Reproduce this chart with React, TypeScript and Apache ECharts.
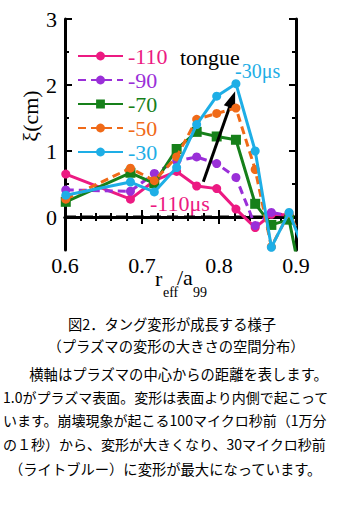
import React, { useEffect, useRef } from "react";
import * as echarts from "echarts";

// r_eff / a_99 positions of the measurement points
const rPositions = [0.601, 0.685, 0.716, 0.745, 0.771, 0.797, 0.822, 0.847, 0.868, 0.891, 0.912];
const seriesNames = ["-110", "-90", "-70", "-50", "-30"];
const xi110 = [0.65, 0.27, 0.55, 0.69, 0.47, 0.43, 0.12, -0.16, 0.04, 0.03];
const xi90 = [0.41, 0.39, 0.66, 0.85, 0.91, 0.81, 0.6, -0.13, 0.07, 0.02];
const xi70 = [0.23, 0.67, 0.51, 1.03, 1.29, 1.22, 1.17, 0.2, -0.12, -0.04, -1.26];
const xi50 = [0.27, 0.74, 0.55, 0.91, 1.48, 1.57, 1.65, 0.72, -0.45, 0.06, -0.45];
const xi30 = [0.33, 0.53, 0.38, 0.75, 1.4, 1.83, 2.02, 1.0, -0.46, 0.07, -0.55];
const seriesValues = [xi110, xi90, xi70, xi50, xi30];
const seriesColors = ["#ec1a82", "#9a2fd8", "#16801a", "#f06a18", "#1eaee6"];
const seriesDashed = [false, true, false, true, false];
const seriesSymbols = ["circle", "circle", "rect", "circle", "circle"];

const xTickLabels = ["0.6", "0.7", "0.8", "0.9"];
const yTickValues = [0, 1, 2, 3];
const yHalfTicks = [0.5, 1.5, 2.5];

const arrowFrom = [0.7796, 0.535];
const arrowTo = [0.8173, 1.785];

const captionTitle = ["図2．タング変形が成長する様子", "（プラズマの変形の大きさの空間分布）"];
const captionBody = [
  "　横軸はプラズマの中心からの距離を表します。",
  "1.0がプラズマ表面。変形は表面より内側で起こって",
  "います。崩壊現象が起こる100マイクロ秒前（1万分",
  "の１秒）から、変形が大きくなり、30マイクロ秒前",
  "（ライトブルー）に変形が最大になっています。",
];

const SERIF = "Liberation Serif";
const JP = "Noto Sans CJK JP";

export default function App() {
  const ref = useRef<HTMLDivElement>(null);
  useEffect(() => {
    if (!ref.current) return;
    const chart = echarts.init(ref.current, null, { renderer: "svg" });

    const baseX = {
      type: "value",
      min: 0.6,
      max: 0.9,
      interval: 0.1,
      axisLine: { show: true, lineStyle: { color: "#000", width: 3 } },
      axisTick: { show: true, inside: true, length: 7, lineStyle: { color: "#000", width: 2 } },
      minorTick: { show: true, splitNumber: 5, length: 4, lineStyle: { color: "#000", width: 2 } },
      splitLine: { show: false },
    };
    const baseYMajor = {
      type: "value",
      min: -0.5,
      max: 3,
      axisLine: { show: true, lineStyle: { color: "#000", width: 3 } },
      axisTick: { show: true, inside: true, length: 7, customValues: yTickValues, lineStyle: { color: "#000", width: 2 } },
      splitLine: { show: false },
    };
    const baseYMinor = {
      type: "value",
      min: -0.5,
      max: 3,
      axisLine: { show: false },
      axisTick: { show: true, inside: true, length: 4, customValues: yHalfTicks, lineStyle: { color: "#000", width: 2 } },
      axisLabel: { show: false },
      splitLine: { show: false },
    };

    const series: any[] = [
      {
        type: "line",
        name: "zero",
        data: [[0.6, 0], [0.9, 0]],
        symbol: "none",
        lineStyle: { color: "#000", width: 3, type: [11, 6] },
        silent: true,
        z: 1,
      },
    ];
    seriesNames.forEach((name, i) => {
      const vals = seriesValues[i];
      series.push({
        type: "line",
        name,
        data: vals.map((v, k) => [rPositions[k], v]),
        symbol: seriesSymbols[i],
        symbolSize: seriesSymbols[i] === "rect" ? 10 : 9,
        itemStyle: { color: seriesColors[i] },
        lineStyle: { color: seriesColors[i], width: 3, type: seriesDashed[i] ? [8, 5] : "solid" },
        clip: true,
        z: 2 + i,
      });
    });
    series.push({
      type: "line",
      name: "arrow",
      data: [],
      markLine: {
        silent: true,
        symbol: ["none", "triangle"],
        symbolSize: [12, 17],
        label: { show: false },
        lineStyle: { color: "#000", width: 3, type: "solid" },
        itemStyle: { color: "#000" },
        data: [[{ coord: arrowFrom }, { coord: arrowTo }]],
      },
      z: 10,
    });

    const graphics: any[] = [
      { type: "text", left: 180, top: 46, style: { text: "tongue", fontSize: 22, fontFamily: SERIF, fill: "#000" } },
      { type: "text", left: 235, top: 61, style: { text: "-30μs", fontSize: 20, fontFamily: SERIF, fill: seriesColors[4] } },
      { type: "text", left: 150, top: 192, style: { text: "-110μs", fontSize: 22, fontFamily: SERIF, fill: seriesColors[0] } },
      {
        type: "text",
        x: 30,
        y: 116,
        rotation: Math.PI / 2,
        style: { text: "ξ(cm)", fontSize: 22, fontFamily: SERIF, fill: "#000", align: "center", verticalAlign: "middle" },
      },
      { type: "text", x: 155, y: 278, style: { text: "r", fontSize: 22, fontFamily: SERIF, fill: "#000", verticalAlign: "middle" } },
      { type: "text", x: 163, y: 292, style: { text: "eff", fontSize: 14, fontFamily: SERIF, fill: "#000", verticalAlign: "middle" } },
      { type: "text", x: 177, y: 277, style: { text: "/a", fontSize: 22, fontFamily: SERIF, fill: "#000", verticalAlign: "middle" } },
      { type: "text", x: 193, y: 292, style: { text: "99", fontSize: 14, fontFamily: SERIF, fill: "#000", verticalAlign: "middle" } },
      { type: "text", x: 172, y: 323, style: { text: captionTitle[0], fontSize: 14.3, fontFamily: JP, fill: "#000", align: "center", verticalAlign: "middle" } },
      { type: "text", x: 176, y: 345, style: { text: captionTitle[1], fontSize: 14.3, fontFamily: JP, fill: "#000", align: "center", verticalAlign: "middle" } },
    ];
    const bodyY = [373, 397, 420, 444, 468];
    const bodyX = [15, 3, 3, 3, 9];
    const bodySize = [14.3, 14, 14, 14, 14.3];
    captionBody.forEach((t, i) => {
      graphics.push({
        type: "text",
        x: bodyX[i],
        y: bodyY[i],
        style: { text: t, fontSize: bodySize[i], fontFamily: JP, fill: "#000", verticalAlign: "middle" },
      });
    });

    chart.setOption({
      animation: false,
      backgroundColor: "#fff",
      textStyle: { fontFamily: SERIF },
      grid: { left: 65, top: 19, width: 231, height: 231, containLabel: false },
      legend: {
        show: true,
        orient: "vertical",
        left: 73,
        top: 40,
        itemWidth: 45,
        itemHeight: 11,
        itemGap: 0,
        padding: 4,
        selectedMode: false,
        textStyle: { fontSize: 22, fontFamily: SERIF, lineHeight: 24 },
        data: seriesNames.map((n, i) => ({
          name: n,
          textStyle: { color: seriesColors[i], fontSize: 22, fontFamily: SERIF, lineHeight: 24 },
        })),
      },
      xAxis: [
        {
          ...baseX,
          position: "bottom",
          axisLabel: {
            show: true,
            fontSize: 22,
            fontFamily: SERIF,
            color: "#000",
            margin: 4,
            formatter: (v: number) => {
              const s = v.toFixed(1);
              return xTickLabels.includes(s) ? s : "";
            },
          },
        },
        { ...baseX, position: "top", axisLabel: { show: false } },
      ],
      yAxis: [
        {
          ...baseYMajor,
          position: "left",
          axisLabel: {
            show: true,
            customValues: yTickValues,
            fontSize: 22,
            fontFamily: SERIF,
            color: "#000",
            margin: 8,
            formatter: (v: number) => String(Math.round(v)),
          },
        },
        { ...baseYMinor, position: "left" },
        { ...baseYMajor, position: "right", axisLabel: { show: false } },
        { ...baseYMinor, position: "right" },
      ],
      series,
      graphic: graphics,
    });
    return () => chart.dispose();
  }, []);
  return <div ref={ref} style={{ position: "absolute", left: 0, top: 0, width: 353, height: 505 }} />;
}
